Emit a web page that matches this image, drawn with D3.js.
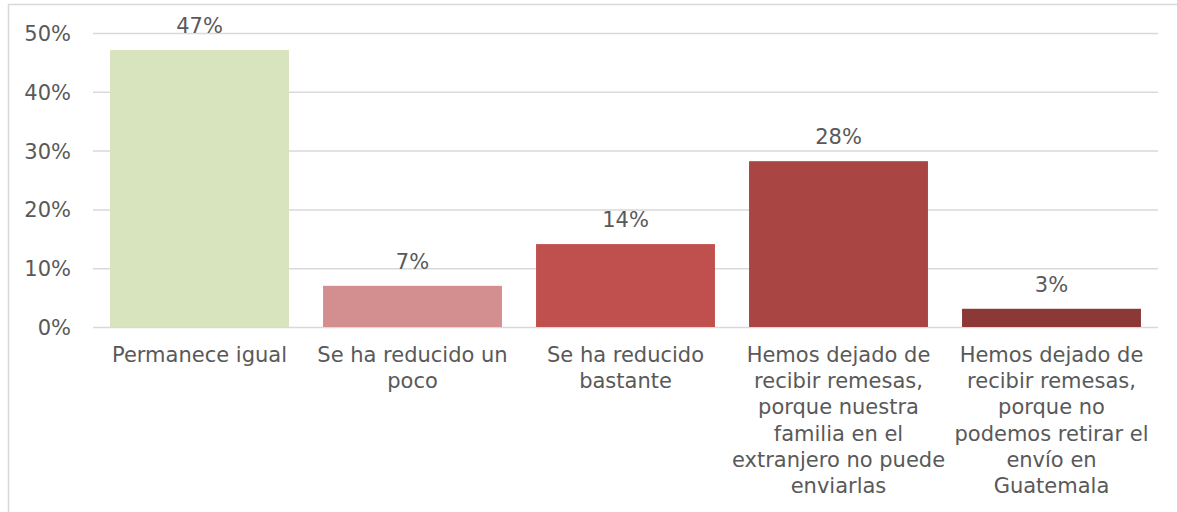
<!DOCTYPE html>
<html>
<head>
<meta charset="utf-8">
<script src="https://cdn.jsdelivr.net/npm/d3@7"></script>
<style>
  html, body { margin: 0; padding: 0; background: #ffffff; }
  svg { display: block; }
  text { font-family: "DejaVu Sans", sans-serif; fill: #595959; }
</style>
</head>
<body>
<svg id="chart" width="1177" height="512"></svg>
<script>
// ---- data ----
const categories = [
  "Permanece igual",
  "Se ha reducido un poco",
  "Se ha reducido bastante",
  "Hemos dejado de recibir remesas, porque nuestra familia en el extranjero no puede enviarlas",
  "Hemos dejado de recibir remesas, porque no podemos retirar el envío en Guatemala"
];
const categoryLines = [
  ["Permanece igual"],
  ["Se ha reducido un", "poco"],
  ["Se ha reducido", "bastante"],
  ["Hemos dejado de", "recibir remesas,", "porque nuestra", "familia en el", "extranjero no puede", "enviarlas"],
  ["Hemos dejado de", "recibir remesas,", "porque no", "podemos retirar el", "envío en", "Guatemala"]
];
const values = [0.471, 0.07, 0.141, 0.282, 0.031];
const valueLabels = ["47%", "7%", "14%", "28%", "3%"];
const barColors = ["#d7e4bd", "#d38f8f", "#c0504d", "#a94644", "#8c3836"];
const yTicks = [0, 0.1, 0.2, 0.3, 0.4, 0.5];
const yTickLabels = ["0%", "10%", "20%", "30%", "40%", "50%"];

// ---- layout ----
const svg = d3.select("#chart");
const plotLeft = 93, plotRight = 1158, plotTop = 33, plotBottom = 327;

// chart border
svg.append("rect")
  .attr("x", 8.5).attr("y", 4.5)
  .attr("width", 1200).attr("height", 600)
  .attr("fill", "none").attr("stroke", "#d9d9d9").attr("stroke-width", 1.5);

const x = d3.scaleBand()
  .domain(d3.range(categories.length))
  .range([plotLeft, plotRight])
  .paddingInner(0.16)
  .paddingOuter(0.08);

const y = d3.scaleLinear().domain([0, 0.5]).range([plotBottom, plotTop]);

// gridlines
const yAxis = d3.axisLeft(y)
  .tickValues(yTicks)
  .tickSize(-(plotRight - plotLeft))
  .tickFormat((d, i) => yTickLabels[i]);

const gy = svg.append("g").attr("transform", `translate(${plotLeft},0)`).call(yAxis);
gy.select(".domain").remove();
gy.selectAll(".tick line").attr("stroke", "#d9d9d9").attr("stroke-width", 1.5);
gy.selectAll(".tick text")
  .attr("x", -22)
  .attr("dy", "0.36em")
  .style("font-size", "21px")
  .style("font-family", "DejaVu Sans, sans-serif")
  .attr("fill", "#595959");

// bars
svg.append("g").selectAll("rect")
  .data(values)
  .join("rect")
  .attr("x", (d, i) => x(i))
  .attr("y", d => y(d))
  .attr("width", x.bandwidth())
  .attr("height", d => y(0) - y(d))
  .attr("fill", (d, i) => barColors[i]);

// value labels
svg.append("g").selectAll("text")
  .data(values)
  .join("text")
  .attr("x", (d, i) => x(i) + x.bandwidth() / 2)
  .attr("y", d => y(d) - 17)
  .attr("text-anchor", "middle")
  .style("font-size", "21px")
  .text((d, i) => valueLabels[i]);

// category labels
const cg = svg.append("g").selectAll("text")
  .data(categoryLines)
  .join("text")
  .attr("text-anchor", "middle")
  .style("font-size", "21px");
cg.each(function(lines, i) {
  const t = d3.select(this);
  lines.forEach((ln, j) => {
    t.append("tspan")
      .attr("x", x(i) + x.bandwidth() / 2)
      .attr("y", 362 + j * 26.2)
      .text(ln);
  });
});
</script>
</body>
</html>
